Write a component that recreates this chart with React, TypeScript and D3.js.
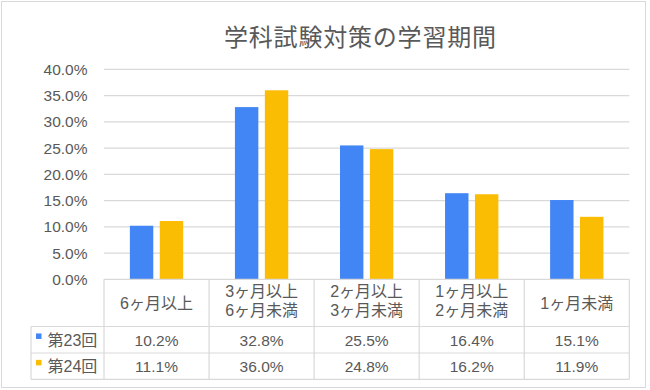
import * as d3 from 'd3'

const TITLE = '学科試験対策の学習期間'
const CATEGORIES = [
  ['6ヶ月以上'],
  ['3ヶ月以上', '6ヶ月未満'],
  ['2ヶ月以上', '3ヶ月未満'],
  ['1ヶ月以上', '2ヶ月未満'],
  ['1ヶ月未満'],
]
const SERIES_NAMES = ['第23回', '第24回']
const SERIES_23 = [10.2, 32.8, 25.5, 16.4, 15.1]
const SERIES_24 = [11.1, 36.0, 24.8, 16.2, 11.9]
const Y_TICKS = [0, 5, 10, 15, 20, 25, 30, 35, 40]

const COLORS = ['#4285F4', '#FBBC04']
const GRID = '#d9d9d9'
const TEXT = '#595959'
const FONT = "'Liberation Sans', Arial, 'Noto Sans CJK JP', sans-serif"

const W = 650
const H = 390
const PLOT = { left: 104, right: 629.3, top: 69.3, bottom: 279.3 }
const TABLE = { legendLeft: 31, row1: 326.5, row2: 353, row3: 379.3 }

export default function App() {
  const series = [SERIES_23, SERIES_24]
  const keys = CATEGORIES.map((c) => c.join(''))

  const x0 = d3.scaleBand<string>().domain(keys).range([PLOT.left, PLOT.right]).padding(0)
  const x1 = d3
    .scaleBand<number>()
    .domain([0, 1])
    .range([0, x0.bandwidth()])
    .paddingInner(0.217)
    .paddingOuter(0.865)
  const y = d3.scaleLinear().domain([0, 40]).range([PLOT.bottom, PLOT.top])

  const fmt = (v: number) => `${v.toFixed(1)}%`
  const boundaries = [PLOT.left, ...keys.map((k) => (x0(k) ?? 0) + x0.bandwidth())]
  const rowCenters = [(TABLE.row1 + TABLE.row2) / 2, (TABLE.row2 + TABLE.row3) / 2]

  return (
    <>
      <style>{'body{margin:0}'}</style>
      <svg width={W} height={H} style={{ display: 'block' }} fontFamily={FONT}>
        <rect x={0} y={0} width={W} height={H} fill="#fff" />
        <rect x={1.5} y={1.5} width={644} height={386} fill="#fff" stroke={GRID} strokeWidth={1} />

        <text x={224} y={46} fontSize={24} letterSpacing={0.8} fill={TEXT}>
          {TITLE}
        </text>

        {Y_TICKS.map((t) => (
          <g key={t}>
            {t > 0 && (
              <line x1={PLOT.left} x2={PLOT.right} y1={y(t)} y2={y(t)} stroke={GRID} strokeWidth={1.2} />
            )}
            <text x={87.5} y={y(t) + 5.5} textAnchor="end" fontSize={15.5} fill={TEXT}>
              {fmt(t)}
            </text>
          </g>
        ))}

        {series.map((vals, si) =>
          vals.map((v, i) => (
            <rect
              key={`${si}-${i}`}
              x={(x0(keys[i]) ?? 0) + (x1(si) ?? 0)}
              y={y(v)}
              width={x1.bandwidth()}
              height={y(0) - y(v)}
              fill={COLORS[si]}
            />
          )),
        )}

        {/* data table */}
        <g stroke={GRID} strokeWidth={1.2}>
          <line x1={PLOT.left} x2={PLOT.right} y1={PLOT.bottom} y2={PLOT.bottom} />
          {[TABLE.row1, TABLE.row2, TABLE.row3].map((ry) => (
            <line key={ry} x1={TABLE.legendLeft} x2={PLOT.right} y1={ry} y2={ry} />
          ))}
          <line x1={TABLE.legendLeft} x2={TABLE.legendLeft} y1={TABLE.row1} y2={TABLE.row3} />
          {boundaries.map((bx) => (
            <line key={bx} x1={bx} x2={bx} y1={PLOT.bottom} y2={TABLE.row3} />
          ))}
        </g>

        {CATEGORIES.map((lines, i) => {
          const cx = (x0(keys[i]) ?? 0) + x0.bandwidth() / 2
          const base = lines.length === 1 ? [309] : [297, 315.5]
          return lines.map((ln, li) => (
            <text key={`${i}-${li}`} x={cx} y={base[li]} textAnchor="middle" fontSize={16} fill={TEXT}>
              {ln}
            </text>
          ))
        })}

        {SERIES_NAMES.map((name, si) => (
          <g key={name}>
            <rect x={36} y={rowCenters[si] - 6.3} width={5.5} height={5.5} fill={COLORS[si]} />
            <text x={47.5} y={rowCenters[si] + 5.8} fontSize={16} fill={TEXT}>
              {name}
            </text>
            {series[si].map((v, i) => (
              <text
                key={i}
                x={(x0(keys[i]) ?? 0) + x0.bandwidth() / 2}
                y={rowCenters[si] + 5.8}
                textAnchor="middle"
                fontSize={15.5}
                fill={TEXT}
              >
                {fmt(v)}
              </text>
            ))}
          </g>
        ))}
      </svg>
    </>
  )
}
